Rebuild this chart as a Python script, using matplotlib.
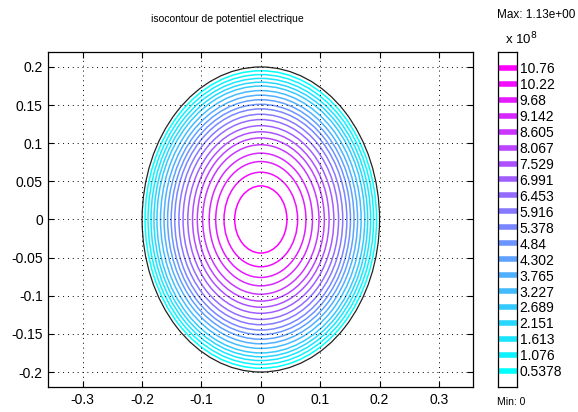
import numpy as np
import matplotlib
matplotlib.use("Agg")
import matplotlib.pyplot as plt
from matplotlib.patches import Circle

plt.rcParams["font.family"] = ["Liberation Sans", "DejaVu Sans"]

# contour levels (x 10^8)
levels = [0.5378, 1.076, 1.613, 2.151, 2.689, 3.227, 3.765, 4.302, 4.84, 5.378,
          5.916, 6.453, 6.991, 7.529, 8.067, 8.605, 9.142, 9.68, 10.22, 10.76]
level_labels = ["0.5378", "1.076", "1.613", "2.151", "2.689", "3.227", "3.765",
                "4.302", "4.84", "5.378", "5.916", "6.453", "6.991", "7.529",
                "8.067", "8.605", "9.142", "9.68", "10.22", "10.76"]
vmax = 11.3

# radius of each isocontour
radii = [0.195, 0.190, 0.185, 0.180, 0.175, 0.169, 0.163, 0.157, 0.151, 0.145,
         0.138, 0.131, 0.123, 0.115, 0.107, 0.098, 0.087, 0.076, 0.062, 0.044]
R_domain = 0.2

xticks = [-0.3, -0.2, -0.1, 0, 0.1, 0.2, 0.3]
yticks = [-0.2, -0.15, -0.1, -0.05, 0, 0.05, 0.1, 0.15, 0.2]

cmap = plt.get_cmap("cool")
norm = plt.Normalize(min(levels), max(levels))

fig = plt.figure(figsize=(5.78, 4.12), dpi=100)
ax = fig.add_axes([0.0836, 0.0600, 0.7353, 0.8145])

for lev, r in zip(levels, radii):
    ax.add_patch(Circle((0, 0), r, fill=False, edgecolor=cmap(norm(lev)), lw=1.1))
ax.add_patch(Circle((0, 0), R_domain, fill=False, edgecolor="#222222", lw=0.9))

ax.set_xlim(-0.358, 0.358)
ax.set_ylim(-0.22, 0.22)
ax.set_xticks(xticks)
ax.set_yticks(yticks)
ax.set_xticklabels(["-0.3", "-0.2", "-0.1", "0", "0.1", "0.2", "0.3"])
ax.set_yticklabels(["-0.2", "-0.15", "-0.1", "-0.05", "0", "0.05", "0.1", "0.15", "0.2"])
ax.tick_params(direction="in", top=True, right=True, length=4, labelsize=10, pad=4)
ax.grid(True, color="black", linestyle=(0, (1, 4)), linewidth=0.7)
for s in ax.spines.values():
    s.set_linewidth(0.9)

fig.text(0.394, 0.954, "isocontour de potentiel electrique", ha="center", va="center", fontsize=7.5)

# legend bar
cax = fig.add_axes([0.8616, 0.0614, 0.0324, 0.813])
cax.set_xlim(0, 1)
cax.set_ylim(0, vmax)
for lev in levels:
    cax.hlines(lev, 0, 1, color=cmap(norm(lev)), lw=4)
cax.set_xticks([])
cax.yaxis.tick_right()
cax.set_yticks(levels)
cax.set_yticklabels(level_labels)
cax.tick_params(axis="y", length=0, pad=2, labelsize=10)
for s in cax.spines.values():
    s.set_linewidth(0.9)

fig.text(0.860, 0.963, "Max: 1.13e+00", ha="left", va="center", fontsize=8.5)
fig.text(0.873, 0.905, r"x 10$^8$", ha="left", va="center", fontsize=9.5)
fig.text(0.860, 0.025, "Min: 0", ha="left", va="center", fontsize=7.5)

fig.savefig("out.png", dpi=100)
